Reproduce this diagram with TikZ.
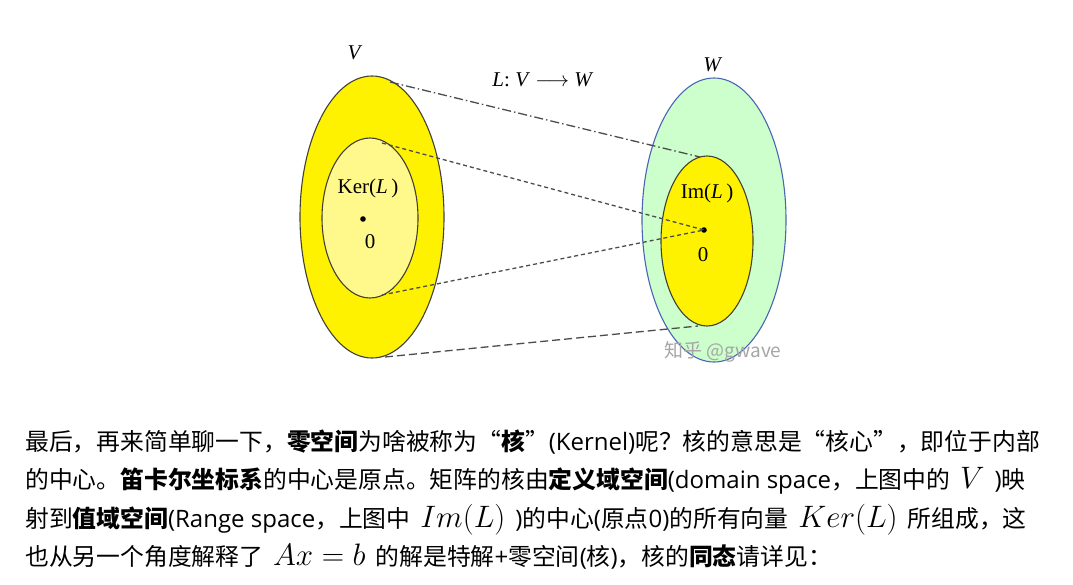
\RequirePackage{fix-cm}
\documentclass[tikz,border=0pt]{standalone}
\usepackage{fontspec}
\setmainfont{Liberation Serif}
\newfontfamily\cjk{Noto Sans CJK SC}
\newfontfamily\lat{Open Sans}
\newcommand\parmath[1]{\hspace{10pt}{\fontsize{31}{32}\selectfont$#1$}\hspace{10pt}}
\newcommand\la[1]{{\lat\fontsize{24}{26}\selectfont #1}}
\definecolor{wblue}{RGB}{75,100,180}
\usetikzlibrary{calc}

\begin{document}
\begin{tikzpicture}[x=1pt,y=-1pt,
  lbl/.style={font=\fontsize{21}{24}\selectfont},
  para/.style={anchor=base west,inner sep=0,font=\cjk\fontsize{23.8}{26}\selectfont},
  hull/.style={draw=black!85!yellow,line width=1.1pt},
  dline/.style={draw=black!70,line width=1.3pt}]
  \useasboundingbox[fill=white] (0,0) rectangle (1073,584);
  % the two spaces
  \filldraw[hull,fill=yellow] (372,217) ellipse [x radius=72pt,y radius=141pt];
  \filldraw[hull,fill=yellow!45] (370,218) ellipse [x radius=48pt,y radius=80pt];
  \filldraw[draw=wblue,line width=1.1pt,fill=green!20] (714,220) ellipse [x radius=72pt,y radius=142pt];
  \filldraw[hull,fill=yellow] (707,241) ellipse [x radius=46pt,y radius=85pt];
  \fill (363,219) circle (2.8pt) coordinate (zeroV);
  \fill (704,230) circle (2.8pt) coordinate (zeroW);
  \coordinate (Vtop) at (390,82);
  \coordinate (Vbot) at (385,357);
  \coordinate (Ktop) at (382,143);
  \coordinate (Kbot) at (382,295);
  \coordinate (Itop) at (700,157);
  \coordinate (Ibot) at (698,326);
  \draw[dline,dash pattern=on 9pt off 3pt on 1.5pt off 3pt] (Vtop) -- (Itop);
  \draw[dline,dash pattern=on 4pt off 3pt] (Ktop) -- (zeroW) -- (Kbot);
  \draw[dline,dash pattern=on 8pt off 4pt] (Vbot) -- (Ibot);
  \node[lbl] (Vlbl) at (355,53) {\textit{V}};
  \node[lbl] (Wlbl) at (713,65) {\textit{W}};
  \node[lbl] (map) at (543,80) {\textit{L}: \textit{V} $\longrightarrow$ \textit{W}};
  \node[lbl] (ker) at (368,188) {Ker(\textit{L}\,)};
  \node[lbl] (kzero) at (370,242) {0};
  \node[lbl] (im) at (707,193) {Im(\textit{L}\,)};
  \node[lbl] (izero) at (703,255) {0};
  \node[font=\cjk\fontsize{19}{22}\selectfont,text=black!35] (mark) at (723,352) {知乎 @gwave};
  % the paragraph below
  \node[para] (line1) at (25,450) {最后，再来简单聊一下，\textbf{零空间}为啥被称为“\textbf{核}”\la{(Kernel)}呢？核的意思是“核心”，即位于内部};
  \node[para] (line2) at (25,488.5) {的中心。\textbf{笛卡尔坐标系}的中心是原点。矩阵的核由\textbf{定义域空间}\la{(domain space}，上图中的\parmath{V}\la{)}映};
  \node[para] (line3) at (25,527) {射到\textbf{值域空间}\la{(Range space}，上图中\parmath{Im(L)}\la{)}的中心\la{(}原点\la{0)}的所有向量\parmath{Ker(L)}所组成，这};
  \node[para] (line4) at (25,565.5) {也从另一个角度解释了\parmath{Ax=b}的解是特解\la{+}零空间\la{(}核\la{)}，核的\textbf{同态}请详见：};
\end{tikzpicture}
\end{document}
